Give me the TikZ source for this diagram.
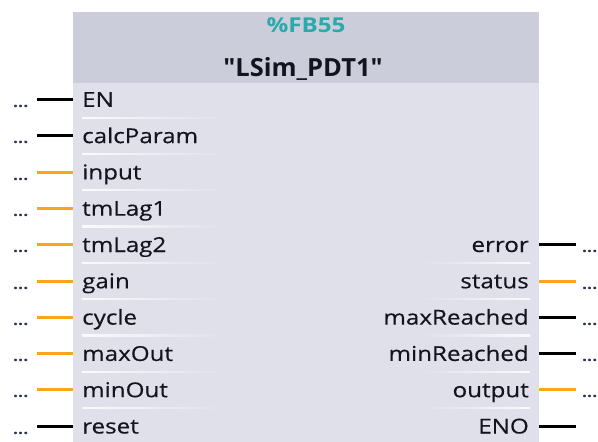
\documentclass[tikz,border=0pt]{standalone}
\usepackage{fontspec}
\setmainfont{Open Sans}[FakeStretch=1.18]
\newfontfamily\titlefont{Open Sans}[FakeStretch=1.02]
\definecolor{body}{HTML}{DFE0EA}
\definecolor{hdr}{HTML}{CBCDDA}
\definecolor{tealc}{HTML}{2BA9AB}
\definecolor{orng}{HTML}{F9A51E}
\definecolor{txt}{HTML}{14141E}
\definecolor{dotc}{HTML}{2A3350}
\begin{document}
\begin{tikzpicture}[x=1pt,y=-1pt,
  lbl/.style={font=\fontsize{20.5}{24}\selectfont\addfontfeatures{FakeBold=0.4}, text=txt, inner sep=0pt},
  wire/.style={line width=3pt},
  dotsty/.style={font=\fontsize{15}{18}\selectfont\bfseries, text=dotc, inner sep=0pt, anchor=base west}]
\useasboundingbox (0,0) rectangle (598,442);
\fill[body] (73,12) rectangle (539,450);
\fill[hdr] (73,12) rectangle (539,83);
\node[font=\fontsize{20.5}{24}\selectfont\bfseries, text=tealc, inner sep=0pt, anchor=base] (fbno) at (306,32.5) {\%FB55};
\node[font=\titlefont\fontsize{25}{30}\selectfont\bfseries\addfontfeatures{Ligatures=TeXOff}, text=txt, inner sep=0pt, anchor=base] (fbname) at (303,76.5) {"LSim\_PDT1"};
% separators
\foreach \k in {0,...,8}{
  \pgfmathsetmacro\sy{99.5+36.3*\k+18.15}
  \shade[left color=white!85!body, right color=body] (82,\sy-0.6) rectangle (225,\sy+0.6);
}
\foreach \k in {4,...,8}{
  \pgfmathsetmacro\sy{99.5+36.3*\k+18.15}
  \shade[left color=body, right color=white!85!body] (420,\sy-0.6) rectangle (530,\sy+0.6);
}
% inputs
\foreach \n/\k/\c in {EN/0/black, calcParam/1/black, input/2/orng, tmLag1/3/orng, tmLag2/4/orng, gain/5/orng, cycle/6/orng, maxOut/7/orng, minOut/8/orng, reset/9/black}{
  \pgfmathsetmacro\yy{99.5+36.3*\k}
  \coordinate (i\n) at (37,\yy);
  \coordinate (b\n) at (73,\yy);
  \draw[wire, \c] (i\n) -- (b\n);
  \node[lbl, anchor=base west] (l\n) at (82,\yy+7.3) {\n};
  \node[dotsty] (d\n) at (13,\yy+8) {...};
}
% outputs
\foreach \n/\k/\c in {error/4/black, status/5/orng, maxReached/6/black, minReached/7/black, output/8/orng}{
  \pgfmathsetmacro\yy{99.5+36.3*\k}
  \coordinate (b\n) at (539,\yy);
  \coordinate (o\n) at (576,\yy);
  \draw[wire, \c] (b\n) -- (o\n);
  \node[lbl, anchor=base east] (l\n) at (529,\yy+7.3) {\n};
  \node[dotsty] (d\n) at (582,\yy+8) {...};
}
\pgfmathsetmacro\yy{99.5+36.3*9}
\coordinate (bENO) at (539,\yy);
\coordinate (oENO) at (576,\yy);
\draw[wire, black] (bENO) -- (oENO);
\node[lbl, anchor=base east] (lENO) at (529,\yy+7.3) {ENO};
\end{tikzpicture}
\end{document}
